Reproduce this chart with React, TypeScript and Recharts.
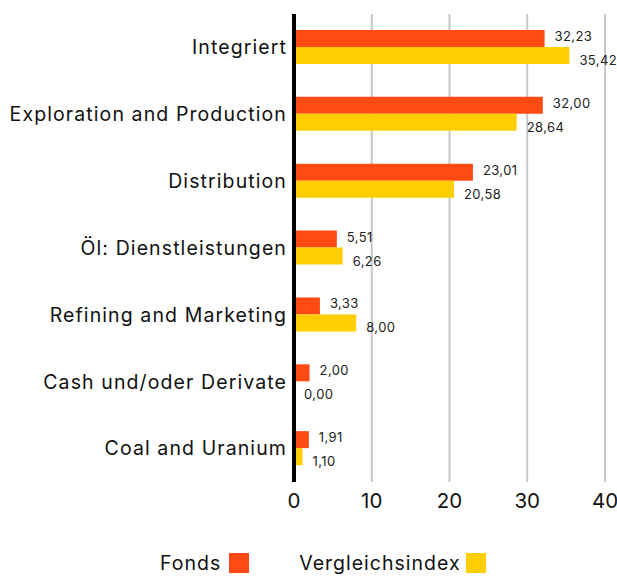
import React from 'react'
import { BarChart, Bar, XAxis, YAxis, CartesianGrid, LabelList } from 'recharts'

const categories = [
  'Integriert',
  'Exploration and Production',
  'Distribution',
  'Öl: Dienstleistungen',
  'Refining and Marketing',
  'Cash und/oder Derivate',
  'Coal and Uranium',
]
const fonds = [32.23, 32.0, 23.01, 5.51, 3.33, 2.0, 1.91]
const index = [35.42, 28.64, 20.58, 6.26, 8.0, 0.0, 1.1]
const xTicks = [0, 10, 20, 30, 40]

const ORANGE = '#ff4a14'
const YELLOW = '#ffce00'
const FONT = 'Inter, "Open Sans", sans-serif'

const data = categories.map((name, i) => ({ name, fonds: fonds[i], index: index[i] }))

const fmt = (v: number) => v.toFixed(2).replace('.', ',')

// value label to the right of the bar, nudged up or down
function makeLabel(dy: number) {
  return (props: any) => {
    const { x, y, width, height, value } = props
    return (
      <text
        x={x + width + 10}
        y={y + height / 2 + dy}
        fontSize={13}
        letterSpacing={0.4}
        fontFamily={FONT}
        fill="#222"
        dominantBaseline="middle"
      >
        {fmt(value)}
      </text>
    )
  }
}

export default function App() {
  return (
    <div style={{ position: 'absolute', left: 0, top: 0, width: 617, height: 577, fontFamily: FONT }}>
      <BarChart
        width={617}
        height={577}
        data={data}
        layout="vertical"
        margin={{ top: 14, right: 12, left: 0, bottom: 60 }}
        barSize={17}
        barGap={0}
      >
        <CartesianGrid horizontal={false} stroke="#c8c8c8" strokeWidth={2} />
        <XAxis
          type="number"
          domain={[0, 40]}
          ticks={xTicks}
          axisLine={false}
          tickLine={false}
          height={35}
          tickMargin={5}
          tick={{ fontSize: 20.5, fill: '#111', fontFamily: FONT }}
        />
        <YAxis
          dataKey="name"
          type="category"
          width={294}
          tickLine={false}
          axisLine={{ stroke: '#000', strokeWidth: 4 }}
          tick={{ fontSize: 19.5, fill: '#111', fontFamily: FONT, letterSpacing: 1.1 }}
          tickMargin={1}
        />
        <Bar dataKey="fonds" fill={ORANGE} isAnimationActive={false}>
          <LabelList dataKey="fonds" content={makeLabel(-1)} />
        </Bar>
        <Bar dataKey="index" fill={YELLOW} minPointSize={0.1} isAnimationActive={false}>
          <LabelList dataKey="index" content={makeLabel(6)} />
        </Bar>
      </BarChart>
      <div
        style={{
          position: 'absolute',
          top: 553,
          left: 160,
          display: 'flex',
          alignItems: 'center',
          fontSize: 19.5,
          letterSpacing: 1,
          color: '#111',
          lineHeight: '20px',
        }}
      >
        <span>Fonds</span>
        <span style={{ display: 'inline-block', width: 20, height: 20, background: ORANGE, marginLeft: 8 }} />
        <span style={{ marginLeft: 50 }}>Vergleichsindex</span>
        <span style={{ display: 'inline-block', width: 20, height: 20, background: YELLOW, marginLeft: 5 }} />
      </div>
    </div>
  )
}
